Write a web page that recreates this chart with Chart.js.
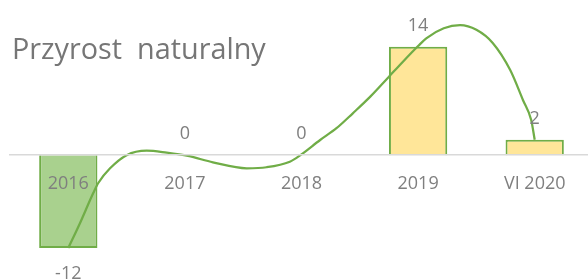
<!DOCTYPE html>
<html>
<head>
<meta charset="utf-8">
<script src="https://cdn.jsdelivr.net/npm/chart.js@4/dist/chart.umd.min.js"></script>
<style>
  html, body { margin: 0; padding: 0; background: #ffffff; overflow: hidden; }
  #wrap { position: relative; width: 600px; height: 279px; }
  #title { position: absolute; left: 12px; top: 34px; font-family: "Open Sans", sans-serif; font-size: 28.8px; line-height: 28px; color: #767676; white-space: pre; }
</style>
</head>
<body>
<div id="wrap">
  <canvas id="c" width="600" height="279"></canvas>
  <div id="title">Przyrost  naturalny</div>
</div>
<script>
// Categories and bar values
const categories = ["2016", "2017", "2018", "2019", "VI 2020"];
const values = [-12, 0, 0, 14, 2];

// Smoothed line: position along the category axis (0 = 2016 ... 4 = VI 2020) and value
const curveX = [0, 0.10, 0.214, 0.257, 0.358, 0.50, 0.672, 0.844, 1.027, 1.24, 1.53, 1.70, 1.90, 1.99, 2.16, 2.30, 2.44, 2.59, 2.75, 2.87, 3.0, 3.07, 3.22, 3.36, 3.50, 3.64, 3.79, 3.90, 3.97, 4.0];
const curveY = [-12, -8.8, -4.9, -3.6, -1.7, 0.0, 0.58, 0.32, -0.1, -0.92, -1.69, -1.56, -0.84, 0.0, 1.96, 3.48, 5.41, 7.56, 10.14, 12.08, 14.1, 15.1, 16.4, 16.8, 16.2, 14.5, 11.0, 7.1, 4.55, 2.0];

const GREEN = "#70ad47";
const GREEN_FILL = "#a9d18e";
const YELLOW_FILL = "#ffe699";
const GRAY_TEXT = "#7f7f7f";
const FONT = "'Open Sans', sans-serif";

const valueLabels = {
  id: "valueLabels",
  afterDatasetsDraw(chart) {
    const ctx = chart.ctx;
    const meta = chart.getDatasetMeta(1);
    ctx.save();
    ctx.font = "18px " + FONT;
    ctx.fillStyle = GRAY_TEXT;
    ctx.textAlign = "center";
    ctx.textBaseline = "alphabetic";
    meta.data.forEach((el, i) => {
      const v = values[i];
      const y = v < 0 ? el.y + 31 : el.y - 16;
      ctx.fillText(String(v), el.x, y);
    });
    ctx.restore();
  }
};

new Chart(document.getElementById("c"), {
  data: {
    labels: categories,
    datasets: [
      {
        type: "line",
        label: "trend",
        xAxisID: "x2",
        data: curveX.map((x, i) => ({ x: x, y: curveY[i] })),
        borderColor: GREEN,
        borderWidth: 2.25,
        pointRadius: 0,
        cubicInterpolationMode: "monotone",
        fill: false,
        order: 0,
        clip: false
      },
      {
        type: "bar",
        label: "Przyrost naturalny",
        xAxisID: "x",
        data: values,
        backgroundColor: ctx => (ctx.raw < 0 ? GREEN_FILL : YELLOW_FILL),
        borderColor: GREEN,
        borderWidth: ctx => (ctx.raw === 0 ? 0 : 2),
        borderSkipped: "start",
        grouped: false,
        barPercentage: 0.5,
        categoryPercentage: 1.0,
        order: 1
      }
    ]
  },
  options: {
    responsive: false,
    animation: false,
    layout: { padding: { left: 10, right: 7, top: 0, bottom: 0 } },
    plugins: { legend: { display: false }, tooltip: { enabled: false }, title: { display: false } },
    scales: {
      x: {
        type: "category",
        offset: true,
        position: { y: 0 },
        grid: { display: false, drawTicks: false },
        border: { display: true, color: "#d9d9d9", width: 1.5, z: 1 },
        ticks: { z: 1, color: GRAY_TEXT, font: { family: FONT, size: 18 }, padding: 18, maxRotation: 0 },
        afterFit(scale) { scale.height = 0; }
      },
      x2: {
        type: "linear",
        display: false,
        min: -0.5,
        max: 4.5
      },
      y: {
        display: false,
        min: -16,
        max: 20.05
      }
    }
  },
  plugins: [valueLabels]
});
</script>
</body>
</html>
